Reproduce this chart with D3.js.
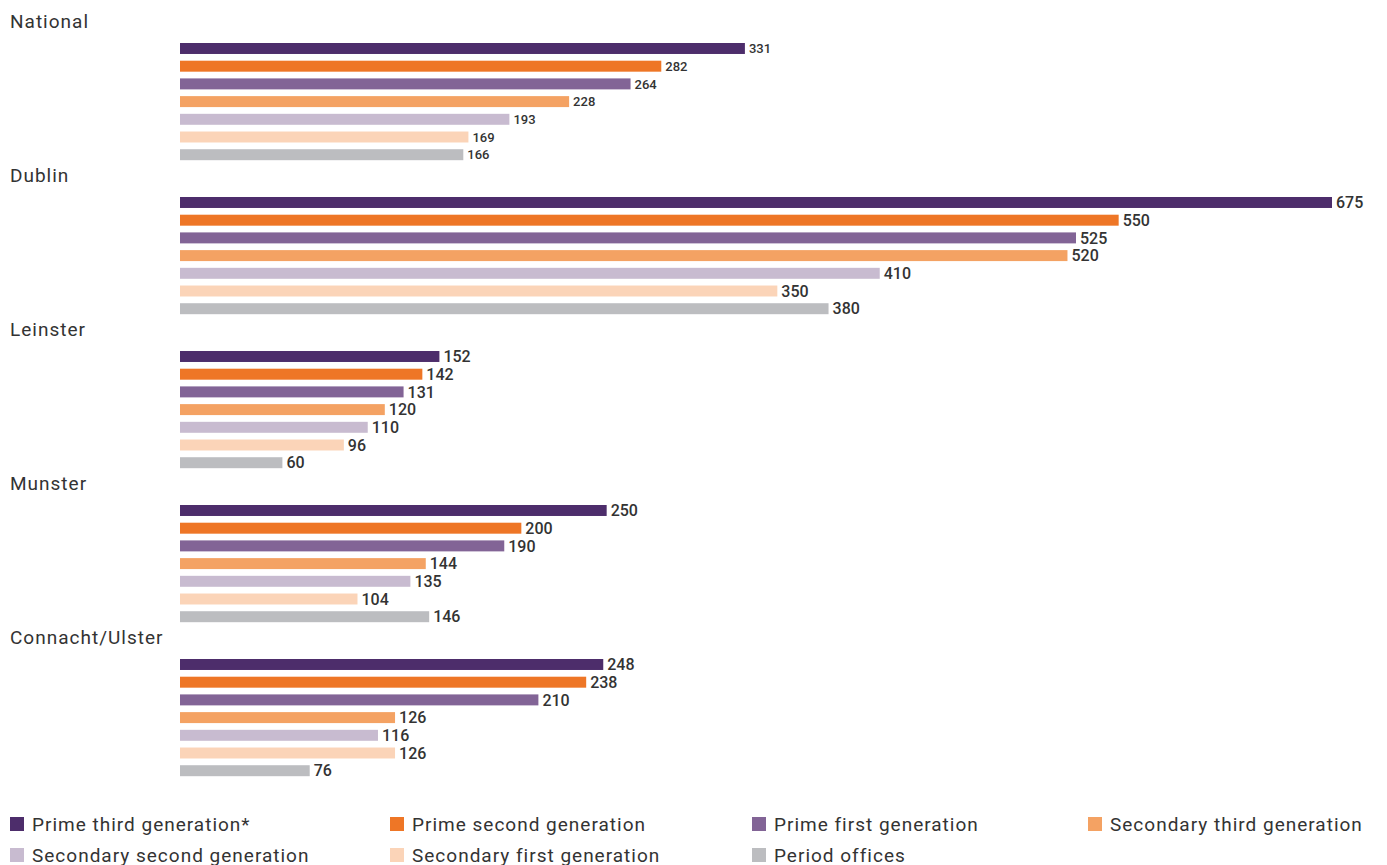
<!DOCTYPE html>
<html>
<head>
<meta charset="utf-8">
<script src="https://cdn.jsdelivr.net/npm/d3@7"></script>
<style>
  body { margin: 0; background: #fff; }
  svg text { font-family: Roboto, "DejaVu Sans", sans-serif; fill: #333; }
</style>
</head>
<body>
<svg width="1387" height="865"></svg>
<script>
var regions = ["National", "Dublin", "Leinster", "Munster", "Connacht/Ulster"];
var seriesNames = ["Prime third generation*", "Prime second generation", "Prime first generation",
                   "Secondary third generation", "Secondary second generation",
                   "Secondary first generation", "Period offices"];
var colors = ["#4d2d6b", "#ee7626", "#826496", "#f4a263", "#c8bbd0", "#fbd4b8", "#bcbdc0"];

var national = [331, 282, 264, 228, 193, 169, 166];
var dublin   = [675, 550, 525, 520, 410, 350, 380];
var leinster = [152, 142, 131, 120, 110, 96, 60];
var munster  = [250, 200, 190, 144, 135, 104, 146];
var connacht = [248, 238, 210, 126, 116, 126, 76];

var values = [national, dublin, leinster, munster, connacht];

var svg = d3.select("svg");

// x scale shared by every region
var x = d3.scaleLinear().domain([0, 675]).range([180, 1332]);

// outer band = region, inner band = series
var y0 = d3.scaleBand().domain(regions).range([43, 813]);
var y1 = d3.scaleBand().domain(seriesNames).range([0, 117.2]).paddingInner(0.38).paddingOuter(0);

var group = svg.selectAll(".region")
  .data(regions)
  .enter().append("g")
    .attr("class", "region")
    .attr("transform", function(d) { return "translate(0," + y0(d) + ")"; });

// region title above its bars
group.append("text")
    .attr("x", 10)
    .attr("y", -15)
    .style("font-size", "19px")
    .style("letter-spacing", "1px")
    .text(function(d) { return d; });

group.each(function(r, i) {
  var g = d3.select(this);
  var rows = seriesNames.map(function(s, j) { return {name: s, value: values[i][j], color: colors[j]}; });

  g.selectAll("rect")
    .data(rows)
    .enter().append("rect")
      .attr("x", x(0))
      .attr("y", function(d) { return y1(d.name); })
      .attr("width", function(d) { return x(d.value) - x(0); })
      .attr("height", y1.bandwidth())
      .attr("fill", function(d) { return d.color; });

  g.selectAll(".val")
    .data(rows)
    .enter().append("text")
      .attr("class", "val")
      .attr("x", function(d) { return x(d.value) + 4; })
      .attr("y", function(d) { return y1(d.name) + y1.bandwidth() / 2; })
      .attr("dy", "0.36em")
      .style("font-size", i === 0 ? "13px" : "16px")
      .style("font-weight", 500)
      .text(function(d) { return d.value; });
});

// legend
var legendX = [10, 390, 752, 1088];
var legend = svg.selectAll(".legend")
  .data(seriesNames)
  .enter().append("g")
    .attr("class", "legend")
    .attr("transform", function(d, i) {
      return "translate(" + legendX[i % 4] + "," + (817 + Math.floor(i / 4) * 31) + ")";
    });

legend.append("rect")
    .attr("width", 14)
    .attr("height", 14)
    .attr("fill", function(d, i) { return colors[i]; });

legend.append("text")
    .attr("x", 22)
    .attr("y", 7)
    .attr("dy", "0.36em")
    .style("font-size", "19px")
    .style("letter-spacing", "1px")
    .text(function(d) { return d; });
</script>
</body>
</html>
